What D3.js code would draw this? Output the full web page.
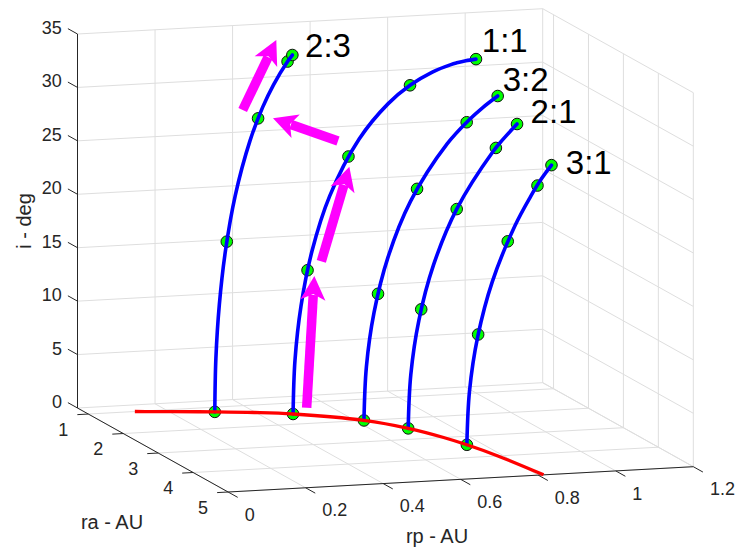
<!DOCTYPE html>
<html lang="en">
<head>
  <meta charset="UTF-8">
  <title>Resonance curves in rp - ra - i space</title>
  <script src="https://cdn.jsdelivr.net/npm/d3@7"></script>
  <style>
    html, body { margin: 0; padding: 0; background: #fff; }
    svg { display: block; font-family: 'Liberation Sans', Arial, Helvetica, sans-serif; }
  </style>
</head>
<body>
<svg id="chart" width="737" height="548"></svg>
<script>
  //
  // Data  (rp - AU, ra - AU, i - deg)
  //
  var rpTicks = [0, 0.2, 0.4, 0.6, 0.8, 1, 1.2]
  var raTicks = [1, 2, 3, 4, 5]
  var iTicks = [0, 5, 10, 15, 20, 25, 30, 35]

  var resonances = ['2:3', '1:1', '3:2', '2:1', '3:1']

  var curve23 = [[0.3064, 1.2199, 0], [0.3095, 1.2168, 5], [0.3193, 1.2070, 10], [0.3368, 1.1895, 15],
    [0.3642, 1.1621, 20], [0.4063, 1.1200, 25], [0.4422, 1.0840, 28], [0.4732, 1.0531, 30],
    [0.5127, 1.0136, 32], [0.5263, 1.0000, 32.56]]
  var curve11 = [[0.4814, 1.5186, 0], [0.4868, 1.5132, 5], [0.5038, 1.4962, 10], [0.5347, 1.4653, 15],
    [0.5851, 1.4149, 20], [0.6683, 1.3317, 25], [0.7504, 1.2496, 28], [0.8129, 1.1871, 29.5],
    [0.8762, 1.1238, 30.5], [0.9289, 1.0711, 31], [0.9456, 1.0544, 31.1], [0.9710, 1.0290, 31.2],
    [1.0, 1.0, 31.24]]
  var curve32 = [[0.6209, 1.9999, 0], [0.6278, 1.9929, 5], [0.6495, 1.9713, 10], [0.6889, 1.9319, 15],
    [0.7528, 1.8680, 20], [0.8571, 1.7636, 25], [0.9192, 1.7016, 27], [0.9577, 1.6630, 28],
    [1.0, 1.6207, 28.92]]
  var curve21 = [[0.6914, 2.4834, 0], [0.6988, 2.4760, 5], [0.7217, 2.4531, 10], [0.7630, 2.4118, 15],
    [0.8289, 2.3459, 20], [0.9320, 2.2428, 25], [0.9594, 2.2154, 26], [1.0, 2.1748, 27.31]]
  var curve31 = [[0.7601, 3.4001, 0], [0.7676, 3.3926, 5], [0.7909, 3.3693, 10], [0.8323, 3.3279, 15],
    [0.8968, 3.2634, 20], [0.9399, 3.2203, 22.5], [0.9695, 3.1907, 24], [1.0, 3.1602, 25.26]]

  var markers23 = [[0.3064, 1.2199, 0], [0.3404, 1.1859, 15.8], [0.4291, 1.0972, 27], [0.5127, 1.0136, 32], [0.5263, 1.0, 32.56]]
  var markers11 = [[0.4814, 1.5186, 0], [0.5224, 1.4776, 13.3], [0.6384, 1.3616, 23.5], [0.8129, 1.1871, 29.5], [1.0, 1.0, 31.24]]
  var markers32 = [[0.6209, 1.9999, 0], [0.6607, 1.9601, 11.7], [0.7714, 1.8494, 21.1], [0.9121, 1.7086, 26.8], [1.0, 1.6207, 28.92]]
  var markers21 = [[0.6914, 2.4834, 0], [0.7283, 2.4465, 11], [0.8289, 2.3459, 20], [0.9400, 2.2348, 25.3], [1.0, 2.1748, 27.31]]
  var markers31 = [[0.7601, 3.4001, 0], [0.7921, 3.3680, 10.2], [0.8760, 3.2841, 18.6], [0.9603, 3.1998, 23.5], [1.0, 3.1602, 25.26]]

  // label anchors in data space
  var labelAt = [[0.559, 1.0, 33.4], [1.015, 1.0, 33.0], [1.013, 1.62, 30.4], [1.035, 2.175, 28.4], [1.037, 3.16, 25.4]]

  // i = 0 curve (red)
  var baseCurve = [[0.12, 1.0, 0], [0.162, 1.05, 0], [0.2065, 1.1, 0], [0.3064, 1.22, 0], [0.3966, 1.35, 0],
    [0.4814, 1.5186, 0], [0.6209, 2.0, 0], [0.6914, 2.4834, 0], [0.7362, 3.0, 0], [0.7601, 3.4001, 0],
    [0.786, 4.0, 0], [0.8137, 5.0, 0]]

  // annotation arrows, normalized figure units [start, end]
  var arrowX = [[0.4161, 0.4265], [0.4360, 0.4740], [0.4586, 0.3704], [0.3293, 0.3749]]
  var arrowY = [[0.2560, 0.4964], [0.5232, 0.6958], [0.7427, 0.7841], [0.7993, 0.9270]]

  //
  // Layout
  //
  var width = 737, height = 548
  var svg = d3.select('#chart')
  var origin = [77.5, 408]
  var exv = [465.2, -25.3]   // screen vector of the full rp range
  var eyv = [150.6, 84]      // screen vector of the full ra range
  var ezv = [0, -374]        // screen vector of the full i range
  var tickLen = 11
  var axisColor = '#262626'
  var gridColor = '#dedede'

  var rpScale = d3.scaleLinear().domain([0, 1.2]).range([0, 1])
  var raScale = d3.scaleLinear().domain([0.69, 5]).range([0, 1])
  var iScale = d3.scaleLinear().domain([0, 35]).range([0, 1])
  var figX = d3.scaleLinear().domain([0, 1]).range([0, width])
  var figY = d3.scaleLinear().domain([0, 1]).range([height, 0])

  var rpMin = rpScale.domain()[0], rpMax = rpScale.domain()[1]
  var raMin = raScale.domain()[0], raMax = raScale.domain()[1]
  var iMin = iScale.domain()[0], iMax = iScale.domain()[1]

  function project(d) {
    var u = rpScale(d[0]), v = raScale(d[1]), w = iScale(d[2])
    return [origin[0] + u * exv[0] + v * eyv[0] + w * ezv[0],
            origin[1] + u * exv[1] + v * eyv[1] + w * ezv[1]]
  }

  function unit(v) {
    var l = Math.hypot(v[0], v[1])
    return [v[0] / l, v[1] / l]
  }

  var exu = unit(exv), eyu = unit(eyv)

  function seg(g, a, b, color, w) {
    var p = project(a), q = project(b)
    g.append('line')
      .attr('x1', p[0]).attr('y1', p[1]).attr('x2', q[0]).attr('y2', q[1])
      .attr('stroke', color).attr('stroke-width', w)
  }

  svg.append('rect').attr('width', width).attr('height', height).attr('fill', '#fff')

  //
  // Grid
  //
  var grid = svg.append('g')
  rpTicks.forEach(function (rp) {
    seg(grid, [rp, raMin, iMin], [rp, raMin, iMax], gridColor, 1)
    seg(grid, [rp, raMin, iMin], [rp, raMax, iMin], gridColor, 1)
  })
  raTicks.forEach(function (ra) {
    seg(grid, [rpMax, ra, iMin], [rpMax, ra, iMax], gridColor, 1)
    seg(grid, [rpMin, ra, iMin], [rpMax, ra, iMin], gridColor, 1)
  })
  iTicks.forEach(function (i) {
    seg(grid, [rpMin, raMin, i], [rpMax, raMin, i], gridColor, 1)
    seg(grid, [rpMax, raMin, i], [rpMax, raMax, i], gridColor, 1)
  })

  //
  // Axes
  //
  var axes = svg.append('g')
  seg(axes, [rpMin, raMin, iMin], [rpMin, raMin, iMax], axisColor, 1)
  seg(axes, [rpMin, raMin, iMin], [rpMin, raMax, iMin], axisColor, 1)
  seg(axes, [rpMin, raMax, iMin], [rpMax, raMax, iMin], axisColor, 1)

  function tick(p, dir) {
    var q = [p[0] + dir[0] * tickLen, p[1] + dir[1] * tickLen]
    axes.append('line')
      .attr('x1', p[0]).attr('y1', p[1]).attr('x2', q[0]).attr('y2', q[1])
      .attr('stroke', axisColor).attr('stroke-width', 1)
    return q
  }

  var tickFont = 18
  iTicks.forEach(function (i) {
    var q = tick(project([rpMin, raMin, i]), [-eyu[0], -eyu[1]])
    axes.append('text').attr('x', q[0] - 6).attr('y', q[1] - 1).attr('dy', '0.35em')
      .attr('text-anchor', 'end').attr('font-size', tickFont).attr('fill', axisColor).text(i)
  })
  raTicks.forEach(function (ra) {
    var q = tick(project([rpMin, ra, iMin]), [-exu[0], -exu[1]])
    axes.append('text').attr('x', q[0] - 9).attr('y', q[1] + 15).attr('dy', '0.35em')
      .attr('text-anchor', 'end').attr('font-size', tickFont).attr('fill', axisColor).text(ra)
  })
  rpTicks.forEach(function (rp) {
    var q = tick(project([rp, raMax, iMin]), eyu)
    axes.append('text').attr('x', q[0] + 7).attr('y', q[1] + 17).attr('dy', '0.35em')
      .attr('text-anchor', 'start').attr('font-size', tickFont).attr('fill', axisColor).text(rp)
  })

  axes.append('text').attr('transform', 'translate(31,221) rotate(-90)')
    .attr('text-anchor', 'middle').attr('font-size', 20).attr('fill', axisColor).text('i - deg')
  axes.append('text').attr('x', 112).attr('y', 529)
    .attr('text-anchor', 'middle').attr('font-size', 20).attr('fill', axisColor).text('ra - AU')
  axes.append('text').attr('x', 437).attr('y', 543)
    .attr('text-anchor', 'middle').attr('font-size', 20).attr('fill', axisColor).text('rp - AU')

  //
  // Data marks
  //
  var line = d3.line()
    .x(function (d) { return project(d)[0] })
    .y(function (d) { return project(d)[1] })
    .curve(d3.curveCatmullRom.alpha(0.5))

  var curves = [curve23, curve11, curve32, curve21, curve31]
  var markers = [markers23, markers11, markers32, markers21, markers31]

  var marks = svg.append('g')
  markers.forEach(function (set) {
    marks.selectAll(null).data(set).enter().append('circle')
      .attr('cx', function (d) { return project(d)[0] })
      .attr('cy', function (d) { return project(d)[1] })
      .attr('r', 5.8)
      .attr('fill', '#00ff00')
      .attr('stroke', '#111')
      .attr('stroke-width', 1)
  })

  curves.forEach(function (c) {
    marks.append('path').attr('d', line(c))
      .attr('fill', 'none').attr('stroke', '#0000ff').attr('stroke-width', 3.6)
      .attr('stroke-linecap', 'round')
  })

  marks.append('path').attr('d', line(baseCurve))
    .attr('fill', 'none').attr('stroke', '#ff0000').attr('stroke-width', 3.3)

  resonances.forEach(function (name, k) {
    var p = project(labelAt[k])
    marks.append('text').attr('x', p[0]).attr('y', p[1]).attr('dy', '0.35em')
      .attr('font-size', 33).attr('fill', '#000').text(name)
  })

  //
  // Annotation arrows
  //
  var headLen = 24, headHalf = 12.5, notch = 6
  var arrows = svg.append('g')
  arrowX.forEach(function (xs, k) {
    var t = [figX(xs[0]), figY(arrowY[k][0])]
    var h = [figX(xs[1]), figY(arrowY[k][1])]
    var d = unit([h[0] - t[0], h[1] - t[1]])
    var n = [-d[1], d[0]]
    var back = [h[0] - d[0] * headLen, h[1] - d[1] * headLen]
    var inner = [h[0] - d[0] * (headLen - notch), h[1] - d[1] * (headLen - notch)]
    arrows.append('line')
      .attr('x1', t[0]).attr('y1', t[1]).attr('x2', inner[0] - d[0]).attr('y2', inner[1] - d[1])
      .attr('stroke', '#ff00ff').attr('stroke-width', 9.5)
    var pts = [h,
      [back[0] + n[0] * headHalf, back[1] + n[1] * headHalf],
      inner,
      [back[0] - n[0] * headHalf, back[1] - n[1] * headHalf]]
    arrows.append('polygon').attr('points', pts.map(function (p) { return p.join(',') }).join(' '))
      .attr('fill', '#ff00ff')
  })
</script>
</body>
</html>
